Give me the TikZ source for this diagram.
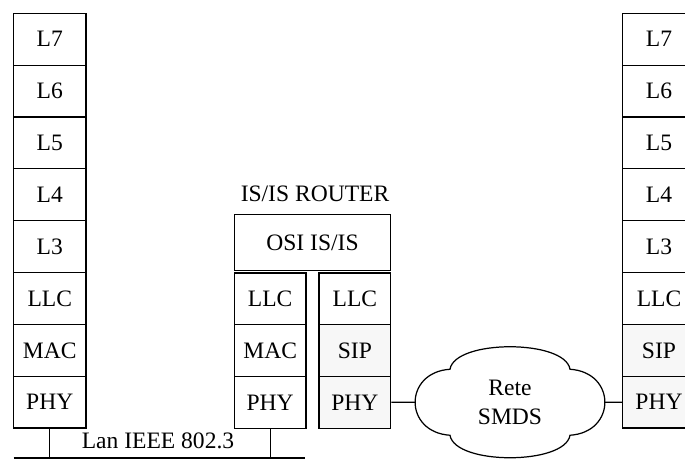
\documentclass[tikz,border=0pt]{standalone}
\usepackage{fontspec}
\setmainfont{Liberation Serif}
\usetikzlibrary{positioning}

\begin{document}
\begin{tikzpicture}[
		layer/.style={draw, line width=0.7pt, minimum width=1.45cm, minimum height=1.037cm, inner sep=0pt, font=\fontsize{13.4}{16}\selectfont},
		half/.style={layer, minimum width=1.434cm, minimum height=1.033cm},
		wire/.style={line width=0.7pt}]
			%%%%% START %%%%%
			\useasboundingbox (0, 0) rectangle (13.7, 9.2);
			
			% left end system
			\foreach \name [count=\i] in {L7,L6,L5,L4,L3,LLC,MAC,PHY}
				\node[layer] (left\i) at (0.995, {8.934 - (\i-0.5)*1.037}) {\name};
			
			% right end system
			\foreach \name/\fillc [count=\i] in {L7/white,L6/white,L5/white,L4/white,L3/white,LLC/white,SIP/black!3,PHY/black!3}
				\node[layer, fill=\fillc] (right\i) at (13.18, {8.934 - (\i-0.5)*1.037}) {\name};
			
			% router
			\node[layer, minimum width=3.128cm, minimum height=1.128cm] (osi) at (6.25, 4.35) {OSI IS/IS};
			\node[font=\fontsize{13.4}{16}\selectfont] (router) at (6.3, 5.32) {IS/IS ROUTER};
			\foreach \name [count=\i] in {LLC,MAC,PHY}
				\node[half] (rlan\i) at (5.403, {3.224 - (\i-1)*1.035}) {\name};
			\foreach \name/\fillc [count=\i] in {LLC/white,SIP/black!3,PHY/black!3}
				\node[half, fill=\fillc] (rsmds\i) at (7.097, {3.224 - (\i-1)*1.035}) {\name};
			
			% lan bus
			\coordinate (lanA) at (0.27, 0.04);
			\coordinate (lanB) at (6.1, 0.04);
			\draw[wire] (lanA) -- (lanB);
			\draw[wire] (left8.south) -- (left8.south |- lanA);
			\draw[wire] (rlan3.south) -- (rlan3.south |- lanA);
			\node[font=\fontsize{13.4}{16}\selectfont] (lan) at (3.16, 0.38) {Lan IEEE 802.3};
			
			% smds cloud
			\draw[wire, shift={(10.2, 1.155)}] (-1.2, 0.66) .. controls (-1.1, 1.26) and (1.1, 1.26) .. (1.2, 0.66)
				.. controls (2.13, 0.6) and (2.13, -0.6) .. (1.2, -0.66)
				.. controls (1.1, -1.26) and (-1.1, -1.26) .. (-1.2, -0.66)
				.. controls (-2.13, -0.6) and (-2.13, 0.6) .. (-1.2, 0.66) -- cycle;
			\node[align=center, font=\fontsize{13.4}{16.5}\selectfont] (smds) at (10.2, 1.16) {Rete\\SMDS};
			\coordinate (smdsW) at (8.3, 1.154);
			\coordinate (smdsE) at (12.1, 1.154);
			\draw[wire] (rsmds3.east) -- (smdsW);
			\draw[wire] (smdsE) -- (right8.west);
			%%%%% END %%%%%
		\end{tikzpicture}
\end{document}
